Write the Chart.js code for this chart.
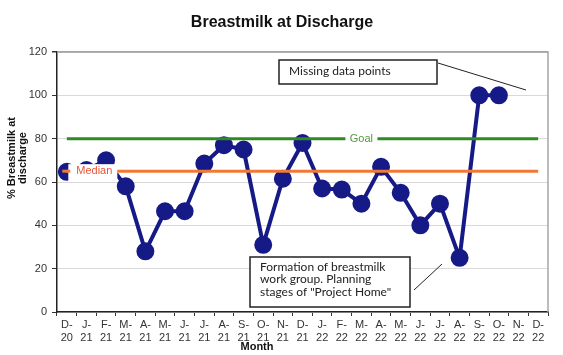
<!DOCTYPE html>
<html><head><meta charset="utf-8">
<script src="https://cdn.jsdelivr.net/npm/chart.js@4"></script>
<style>html,body{margin:0;padding:0;background:#fff;}#wrap{width:563px;height:355px;}</style>
</head><body><div id="wrap"><canvas id="c" width="563" height="355"></canvas></div>
<script>
const monthLabels = [['D-','20'],['J-','21'],['F-','21'],['M-','21'],['A-','21'],['M-','21'],['J-','21'],['J-','21'],['A-','21'],['S-','21'],['O-','21'],['N-','21'],['D-','21'],['J-','22'],['F-','22'],['M-','22'],['A-','22'],['M-','22'],['J-','22'],['J-','22'],['A-','22'],['S-','22'],['O-','22'],['N-','22'],['D-','22']];
const breastmilkPct = [64.7,65.5,70,58,28,46.5,46.5,68.5,77,75,31,61.5,78,57,56.5,50,67,55,40,50,25,100,100,null,null];
const goalValue = 80;
const medianValue = 65;
const yTicks = [0,20,40,60,80,100,120];
const titleText = 'Breastmilk at Discharge';
const yTitleLines = ['% Breastmilk at','discharge'];
const xTitleText = 'Month';
const note1 = ['Missing data points'];
const note2 = ['Formation of breastmilk','work group. Planning','stages of "Project Home"'];

const goalSeries = monthLabels.map(() => goalValue);
const medianSeries = monthLabels.map(() => medianValue);

const NAVY = '#161a87';
const GREEN = '#2f8a22';
const ORANGE = '#f07a35';

const deco = {
  id: 'deco',
  afterDatasetsDraw(chart) {
    const ctx = chart.ctx, x = chart.scales.x, y = chart.scales.y, a = chart.chartArea;
    ctx.save();
    // plot border top/right
    ctx.strokeStyle = '#a6a6a6'; ctx.lineWidth = 1.5;
    ctx.beginPath(); ctx.moveTo(a.left, a.top); ctx.lineTo(a.right, a.top); ctx.lineTo(a.right, a.bottom); ctx.stroke();

    // Goal label
    ctx.font = '11px "Liberation Sans", Arial, sans-serif';
    ctx.textAlign = 'center'; ctx.textBaseline = 'middle';
    let gx = x.getPixelForValue(15), gy = y.getPixelForValue(goalValue);
    ctx.fillStyle = '#fff'; ctx.fillRect(gx - 16, gy - 7, 32, 14);
    ctx.fillStyle = '#4f9a3f'; ctx.fillText('Goal', gx, gy);
    // Median label
    let mx = x.getPixelForValue(1.4), my = y.getPixelForValue(medianValue);
    ctx.fillStyle = '#fff'; ctx.fillRect(mx - 26, my - 7, 49, 17);
    ctx.strokeStyle = ORANGE; ctx.lineWidth = 3;
    ctx.beginPath(); ctx.moveTo(mx - 32, my); ctx.lineTo(mx - 24, my); ctx.stroke();
    ctx.fillStyle = '#e8553a'; ctx.fillText('Median', mx, my);

    // Annotation 1
    ctx.fillStyle = '#fff'; ctx.strokeStyle = '#222'; ctx.lineWidth = 1.5;
    ctx.fillRect(279, 60, 158, 24); ctx.strokeRect(279, 60, 158, 24);
    ctx.fillStyle = '#222'; ctx.textAlign = 'left';
    ctx.font = '12px Lato, "Open Sans", sans-serif';
    ctx.fillText(note1[0], 289, 71);
    ctx.lineWidth = 1; ctx.beginPath(); ctx.moveTo(438, 63); ctx.lineTo(526, 90); ctx.stroke();

    // Annotation 2
    ctx.fillStyle = '#fff'; ctx.lineWidth = 1.5;
    ctx.fillRect(250, 257, 160, 50); ctx.strokeRect(250, 257, 160, 50);
    ctx.fillStyle = '#222';
    note2.forEach((t, i) => ctx.fillText(t, 260, 267 + i * 12.5));
    ctx.lineWidth = 1; ctx.beginPath(); ctx.moveTo(414, 290); ctx.lineTo(442, 264); ctx.stroke();
    ctx.restore();
  },
  afterDraw(chart) {
    const ctx = chart.ctx;
    ctx.save();
    ctx.fillStyle = '#111';
    ctx.textAlign = 'center'; ctx.textBaseline = 'middle';
    ctx.font = 'bold 16px "Liberation Sans", Arial, sans-serif';
    ctx.fillText(titleText, 282, 23);
    ctx.font = 'bold 11px "Liberation Sans", Arial, sans-serif';
    ctx.fillText(xTitleText, 257, 347);
    ctx.translate(0, 158); ctx.rotate(-Math.PI / 2);
    ctx.fillText(yTitleLines[0], 0, 12);
    ctx.fillText(yTitleLines[1], 0, 23);
    ctx.restore();
  }
};

new Chart(document.getElementById('c'), {
  type: 'line',
  data: {
    labels: monthLabels,
    datasets: [
      { data: goalSeries, borderColor: GREEN, borderWidth: 3, pointRadius: 0, tension: 0 },
      { data: medianSeries, borderColor: ORANGE, borderWidth: 3, pointRadius: 0, tension: 0 },
      { data: breastmilkPct, borderColor: NAVY, backgroundColor: NAVY, borderWidth: 4, pointRadius: 7, pointHoverRadius: 7, pointBackgroundColor: NAVY, pointBorderColor: NAVY, tension: 0, spanGaps: false }
    ]
  },
  options: {
    responsive: false, animation: false, devicePixelRatio: 1,
    layout: { padding: { top: 52, right: 15, left: 0, bottom: 0 } },
    plugins: { legend: { display: false }, title: { display: false }, tooltip: { enabled: false } },
    scales: {
      x: {
        type: 'category', offset: true,
        afterFit(s) { s.height = 43; },
        grid: { drawOnChartArea: false, drawTicks: true, tickLength: 4, tickColor: '#333', offset: true },
        border: { color: '#222', width: 1.5 },
        ticks: { autoSkip: false, maxRotation: 0, minRotation: 0, padding: 3, color: '#333', font: { family: '"Liberation Sans", Arial, sans-serif', size: 11, lineHeight: 1.15 } }
      },
      y: {
        min: 0, max: 120,
        afterFit(s) { s.width = 57; },
        afterBuildTicks(s) { s.ticks = yTicks.map(v => ({ value: v })); },
        grid: { color: c => (c.tick && c.tick.value === 120) ? '#a6a6a6' : '#d9d9d9', lineWidth: c => (c.tick && c.tick.value === 120) ? 1.5 : 1, tickColor: '#333', tickLength: 5 },
        border: { color: '#222', width: 1.5 },
        ticks: { padding: 5, color: '#333', font: { family: '"Liberation Sans", Arial, sans-serif', size: 11 } }
      }
    }
  },
  plugins: [deco]
});
</script></body></html>
